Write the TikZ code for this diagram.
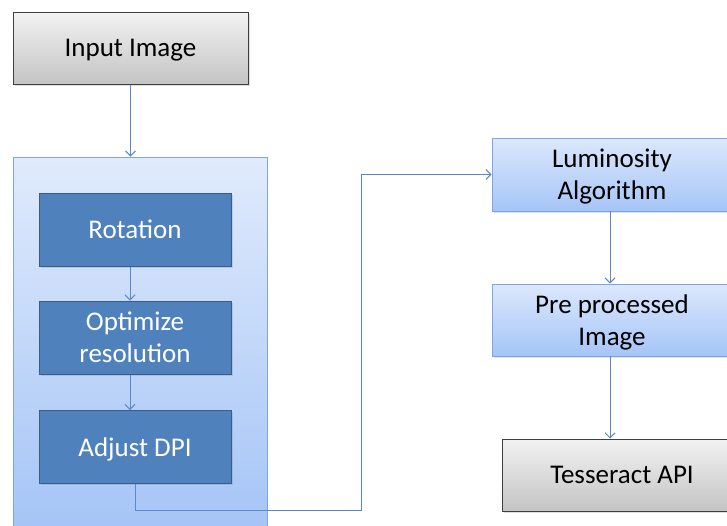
\documentclass[tikz,border=0pt]{standalone}
\usepackage{fontspec}
\setmainfont{Carlito}
\usetikzlibrary{arrows.meta,shadows}
\definecolor{arrowc}{HTML}{5A88CC}
\definecolor{graytop}{HTML}{F2F2F2}
\definecolor{graybot}{HTML}{C4C4C4}
\definecolor{grayedge}{HTML}{3F3F3F}
\definecolor{darkblue}{HTML}{4F81BD}
\definecolor{darkedge}{HTML}{385D8A}
\definecolor{lighttop}{HTML}{DCE8FC}
\definecolor{lightbot}{HTML}{A5C5F7}
\definecolor{lightedge}{HTML}{7EA6E0}
\definecolor{conttop}{HTML}{E0EBFC}
\definecolor{contbot}{HTML}{A3C3F6}
\tikzset{
  base/.style={rectangle, inner sep=0pt, align=center, font=\fontsize{27}{32}\selectfont,
    text depth=0pt, drop shadow={opacity=0.25, shadow xshift=1.5pt, shadow yshift=-1.5pt}},
  graybox/.style={base, draw=grayedge, line width=1pt, top color=graytop, bottom color=graybot,
    minimum width=235pt, minimum height=72pt},
  darkbox/.style={base, draw=darkedge, line width=1pt, fill=darkblue, text=white,
    minimum width=192pt, minimum height=73pt},
  lightbox/.style={base, draw=lightedge, line width=0.8pt, top color=lighttop, bottom color=lightbot,
    minimum width=240pt, minimum height=73pt},
  container/.style={rectangle, draw=lightedge, line width=0.8pt, top color=conttop, bottom color=contbot,
    minimum width=254pt, minimum height=383pt, inner sep=0pt},
  arr/.style={draw=arrowc, line width=1pt, -{Straight Barb[length=5pt,width=10pt]}}
}
\begin{document}
\begin{tikzpicture}[x=1pt,y=-1pt]
\useasboundingbox (0,0) rectangle (727,525);
\fill[white] (0,0) rectangle (727,525);
\node[graybox] (in) at (130.5,48) {Input Image};
\node[container] (cont) at (140,348.5) {};
\node[darkbox] (rot) at (135,229.5) {Rotation};
\node[darkbox] (opt) at (135,337.5) {Optimize\\resolution};
\node[darkbox] (adj) at (135,447) {Adjust DPI};
\node[lightbox] (lum) at (612,174.5) {Luminosity\\Algorithm};
\node[lightbox, minimum height=72pt] (pre) at (612,320) {Pre processed\\Image};
\node[graybox, minimum width=240pt] (tes) at (622,475) {Tesseract API};
\coordinate (c1) at (361,510);
\draw[arr] (in.south) -- (in.south |- cont.north);
\draw[arr] ([xshift=-5pt]rot.south) -- ([xshift=-5pt]opt.north);
\draw[arr] ([xshift=-5pt]opt.south) -- ([xshift=-5pt]adj.north);
\draw[arr] (adj.south) |- (c1) |- (lum.west);
\draw[arr] ([xshift=-2pt]lum.south) -- ([xshift=-2pt]pre.north);
\draw[arr] ([xshift=-2pt]pre.south) -- ([xshift=-2pt]pre.south |- tes.north);
\end{tikzpicture}
\end{document}
